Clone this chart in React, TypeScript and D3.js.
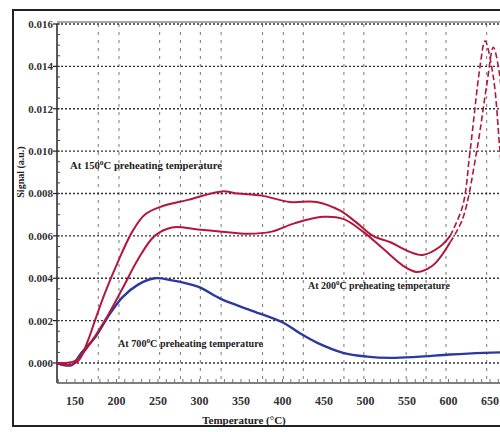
import React from "react";
import * as d3 from "d3";

// ---- data ----
const t150 = [128, 142, 154, 166, 174, 186, 202, 219, 234, 255, 286, 327, 346, 375, 409, 441, 469, 490, 509, 530, 550, 569, 590, 602];
const v150 = [0.0, -0.0001, 0.0001, 0.0011, 0.002, 0.0033, 0.0048, 0.0062, 0.007, 0.0074, 0.0077, 0.0081, 0.008, 0.0079, 0.0076, 0.0076, 0.0072, 0.0066, 0.006, 0.0057, 0.0053, 0.0051, 0.0055, 0.006];
const t150dash = [602, 617, 626, 638, 644, 654, 662, 672];
const v150dash = [0.006, 0.0074, 0.01, 0.014, 0.0152, 0.0135, 0.01, 0.0055];

const t200 = [128, 150, 166, 186, 207, 226, 246, 267, 298, 327, 358, 387, 415, 449, 473, 497, 521, 545, 562, 581, 602];
const v200 = [0.0, 0.0001, 0.0008, 0.002, 0.0035, 0.0049, 0.006, 0.0064, 0.0063, 0.0062, 0.0061, 0.0062, 0.0066, 0.0069, 0.0068, 0.0062, 0.0054, 0.0046, 0.0043, 0.0046, 0.0057];
const t200dash = [602, 617, 634, 646, 654, 660, 668, 678];
const v200dash = [0.0057, 0.0068, 0.01, 0.0131, 0.0149, 0.014, 0.011, 0.0065];

const t700 = [128, 146, 158, 174, 190, 207, 226, 246, 267, 298, 327, 361, 401, 421, 442, 473, 502, 530, 562, 602, 642, 662, 700];
const v700 = [0.0, -0.0001, 0.0005, 0.0012, 0.0022, 0.0031, 0.0037, 0.004, 0.0039, 0.0036, 0.003, 0.0025, 0.0019, 0.0014, 0.00095, 0.00048, 0.0003, 0.00024, 0.00029, 0.0004, 0.00048, 0.0005, 0.0005];

const xTickLabels = [150, 200, 250, 300, 350, 400, 450, 500, 550, 600, 650];
const yTickLabels = [0, 0.002, 0.004, 0.006, 0.008, 0.01, 0.012, 0.014, 0.016];
const vGridTemps = [178, 203, 252, 277, 301, 326, 376, 401, 425, 474, 498, 549, 573, 597, 646];

const RED = "#b3173c";
const BLUE = "#2b3a9e";
const FONT = "'Liberation Serif', 'DejaVu Serif', serif";

export default function App() {
  const x = d3.scaleLinear().domain([128.3, 700]).range([57, 531.5]);
  const y = d3.scaleLinear().domain([-0.000944, 0.016]).range([383, 24]);
  const left = 57, top = 24, bottom = 383, right = 540;

  const line = d3
    .line<[number, number]>()
    .x((d) => x(d[0]))
    .y((d) => y(d[1]))
    .curve(d3.curveCatmullRom.alpha(0.5));
  const zip = (a: number[], b: number[]) => a.map((t, i) => [t, b[i]] as [number, number]);

  const minorX = d3.range(130, 700, 10);
  const minorY = d3.range(0, 0.0161, 0.0005);

  return (
    <svg width={500} height={432} style={{ position: "absolute", left: 0, top: 0, background: "#fff" }} fontFamily={FONT}>
      <rect x={0} y={0} width={500} height={432} fill="#fff" />
      {/* outer border */}
      <rect x={13} y={10} width={520} height={416} fill="none" stroke="#222" strokeWidth={2} />

      {/* vertical dashed grid */}
      {vGridTemps.map((t) => (
        <line key={"vg" + t} x1={x(t)} x2={x(t)} y1={top} y2={bottom} stroke="#777" strokeWidth={1} strokeDasharray="3,5" />
      ))}
      {/* horizontal dotted grid */}
      {yTickLabels.map((v) => (
        <line key={"hg" + v} x1={left} x2={right} y1={y(v)} y2={y(v)} stroke="#333" strokeWidth={1.3} strokeDasharray="2,2" />
      ))}
      {/* top solid frame */}
      <line x1={left} x2={right} y1={top - 2} y2={top - 2} stroke="#555" strokeWidth={1.2} />

      {/* axes */}
      <line x1={left} x2={left} y1={top} y2={bottom} stroke="#222" strokeWidth={1.5} />
      <line x1={left} x2={right} y1={bottom} y2={bottom} stroke="#555" strokeWidth={1.5} />
      {minorX.map((t) => (
        <line key={"mx" + t} x1={x(t)} x2={x(t)} y1={bottom} y2={bottom - 4} stroke="#777" strokeWidth={1} />
      ))}
      {minorY.map((v, i) => (
        <line key={"my" + i} x1={left} x2={left + 3} y1={y(v)} y2={y(v)} stroke="#444" strokeWidth={1} />
      ))}
      {yTickLabels.map((v) => (
        <g key={"yt" + v}>
          <line x1={left - 4} x2={left} y1={y(v)} y2={y(v)} stroke="#222" strokeWidth={1.2} />
          <text x={left - 4} y={y(v) + 4} textAnchor="end" fontSize={11} fontWeight="bold" fill="#333">
            {v.toFixed(3)}
          </text>
        </g>
      ))}
      {xTickLabels.map((t) => (
        <text key={"xt" + t} x={x(t)} y={405} textAnchor="middle" fontSize={12} fontWeight="bold" fill="#333">
          {t}
        </text>
      ))}
      <text x={244} y={424} textAnchor="middle" fontSize={11} fontWeight="bold" fill="#222">
        Temperature (°C)
      </text>
      <text transform="translate(24,172) rotate(-90)" textAnchor="middle" fontSize={10} fontWeight="bold" fill="#222">
        Signal (a.u.)
      </text>

      {/* series */}
      <path d={line(zip(t700, v700)) || ""} fill="none" stroke={BLUE} strokeWidth={2.4} />
      <path d={line(zip(t200, v200)) || ""} fill="none" stroke={RED} strokeWidth={2} />
      <path d={line(zip(t150, v150)) || ""} fill="none" stroke={RED} strokeWidth={2} />
      <path d={line(zip(t150dash, v150dash)) || ""} fill="none" stroke={RED} strokeWidth={1.6} strokeDasharray="6,3" />
      <path d={line(zip(t200dash, v200dash)) || ""} fill="none" stroke={RED} strokeWidth={1.6} strokeDasharray="6,3" />

      {/* annotations */}
      <text x={70} y={169} fontSize={10} fontWeight="bold" fill="#222" textLength={152} lengthAdjust="spacingAndGlyphs">
        At 150<tspan fontSize={7} dy={-4}>0</tspan><tspan dy={4}>C preheating temperature</tspan>
      </text>
      <text x={308} y={289} fontSize={10} fontWeight="bold" fill="#222" textLength={142} lengthAdjust="spacingAndGlyphs">
        At 200<tspan fontSize={7} dy={-4}>0</tspan><tspan dy={4}>C preheating temperature</tspan>
      </text>
      <text x={118} y={347} fontSize={10} fontWeight="bold" fill="#222" textLength={145} lengthAdjust="spacingAndGlyphs">
        At 700<tspan fontSize={7} dy={-4}>0</tspan><tspan dy={4}>C preheating temperature</tspan>
      </text>
    </svg>
  );
}
